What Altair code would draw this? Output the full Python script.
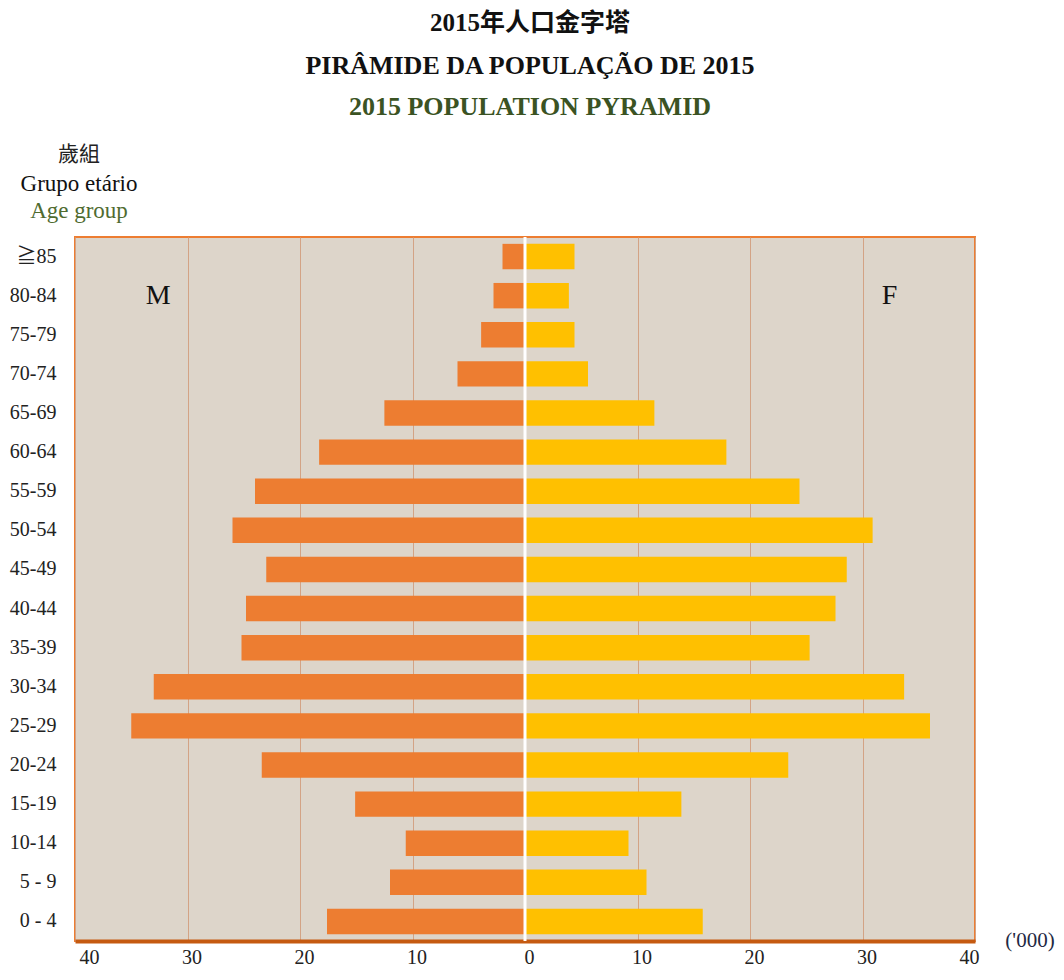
import altair as alt
import pandas as pd

ages = ["≧85", "80-84", "75-79", "70-74", "65-69", "60-64", "55-59", "50-54",
        "45-49", "40-44", "35-39", "30-34", "25-29", "20-24", "15-19", "10-14",
        "5 - 9", "0 - 4"]
male = [2.0, 2.8, 3.9, 6.0, 12.5, 18.3, 24.0, 26.0, 23.0, 24.8, 25.2, 33.0,
        35.0, 23.4, 15.1, 10.6, 12.0, 17.6]
female = [4.4, 3.9, 4.4, 5.6, 11.5, 17.9, 24.4, 30.9, 28.6, 27.6, 25.3, 33.7,
          36.0, 23.4, 13.9, 9.2, 10.8, 15.8]
x_ticks = [-40, -30, -20, -10, 0, 10, 20, 30, 40]

df = pd.DataFrame({
    "age": ages * 2,
    "sex": ["M"] * len(ages) + ["F"] * len(ages),
    "value": [-v for v in male] + female,
})

SERIF = "Liberation Serif, Times New Roman, Noto Sans CJK TC"

x_enc = alt.X("value:Q",
              scale=alt.Scale(domain=[-40, 40], nice=False, zero=False),
              axis=alt.Axis(values=x_ticks, labelExpr="abs(datum.value)",
                            title=None, grid=True, gridColor="#D3A385",
                            gridWidth=1, domainColor="#C55A11", domainWidth=4,
                            ticks=False, labelFont=SERIF, labelFontSize=20,
                            labelColor="#222222", labelPadding=6,
                            labelOffset=4))
y_enc = alt.Y("age:N", sort=ages,
              scale=alt.Scale(paddingInner=0.35, paddingOuter=0.175),
              axis=alt.Axis(title=None, ticks=False, domain=False,
                            labelFont=SERIF, labelFontSize=20,
                            labelColor="#222222", labelPadding=19))

bars = alt.Chart(df).mark_bar().encode(
    x=x_enc,
    y=y_enc,
    color=alt.Color("sex:N", scale=alt.Scale(domain=["M", "F"],
                                             range=["#ED7D31", "#FFC000"]),
                    legend=None),
)

center = alt.Chart(pd.DataFrame({"v": [0]})).mark_rule(
    color="white", strokeWidth=3).encode(x="v:Q")

sex_labels = pd.DataFrame({"age": ["80-84", "80-84"], "value": [-32.6, 32.4],
                           "lab": ["M", "F"]})
mf = alt.Chart(sex_labels).mark_text(font=SERIF, fontSize=28,
                                     color="#111111").encode(
    x="value:Q", y=alt.Y("age:N", sort=ages), text="lab:N")


def label(text, px, py, size, color="#111111", weight="normal"):
    return alt.Chart(alt.Data(values=[{}])).mark_text(
        text=text, font=SERIF, fontSize=size, fontWeight=weight,
        color=color, align="center", baseline="middle").encode(
        x=alt.value(px), y=alt.value(py))


texts = [
    label("2015年人口金字塔", 455, -214, 25, "#111111", "bold"),
    label("PIRÂMIDE DA POPULAÇÃO DE 2015", 455, -171, 26, "#111111", "bold"),
    label("2015 POPULATION PYRAMID", 455, -130, 26, "#3B5323", "bold"),
    label("歲組", 4, -82, 21, "#222222"),
    label("Grupo etário", 4, -53, 23, "#111111"),
    label("Age group", 4, -26, 23, "#4F6B30"),
    label("('000)", 955, 704, 21, "#1F2A44"),
]

chart = alt.layer(bars, center, mf, *texts).properties(
    width=900, height=704,
    autosize=alt.AutoSizeParams(type="none"),
    padding={"left": 67, "top": 229, "right": 80, "bottom": 29},
).configure_view(
    fill="#DDD5CA", stroke="#ED7D31", strokeWidth=2
)

chart.save("out.html", embed_options={"renderer": "svg", "actions": False})
